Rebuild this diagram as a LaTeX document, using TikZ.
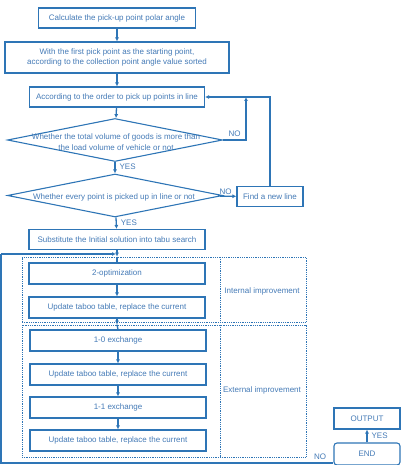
\documentclass[tikz,border=0pt]{standalone}
\usepackage{fontspec}
\setmainfont{Liberation Sans}
\usetikzlibrary{shapes,arrows.meta}
\definecolor{flowblue}{RGB}{46,117,182}
\definecolor{flowtext}{RGB}{68,122,182}

\begin{document}
\begin{tikzpicture}[x=1pt,y=-1pt,
    box/.style={draw=flowblue,line width=1.1pt,text=flowtext,font=\fontsize{8}{10}\selectfont,align=center,minimum height=20pt,inner sep=1pt},
    decision/.style={diamond,draw=flowblue,line width=1.1pt,minimum width=215pt,minimum height=43pt,inner sep=0pt},
    txt/.style={text=flowtext,font=\fontsize{8}{11}\selectfont,align=center,inner sep=0pt},
    arr/.style={draw=flowblue,line width=1.3pt,-{Latex[length=4pt,width=4pt]}},
    back/.style={draw=flowblue,line width=1.8pt},
    area/.style={draw=flowblue,densely dotted,line width=0.8pt}]
        \useasboundingbox (0,0) rectangle (410,465);
        % initial solution
        \node[box,minimum width=157pt] (calc) at (117,18) {Calculate the pick-up point polar angle};
        \node[box,minimum width=224pt,minimum height=31pt] (sort) at (117,57.5) {With the first pick point as the starting point,\\according to the collection point angle value sorted};
        \node[box,minimum width=175pt] (order) at (117,97) {According to the order to pick up points in line};
        \node[decision] (load) at (115,140) {};
        \node[txt] (loadtxt) at (116,142.5) {Whether the total volume of goods is more than\\the load volume of vehicle or not};
        \node[decision] (every) at (115,195.5) {};
        \node[txt] (everytxt) at (114,197) {Whether every point is picked up in line or not};
        \node[box,minimum width=66pt] (newline) at (270,196.5) {Find a new line};
        \node[box,minimum width=176pt] (subst) at (117,239.5) {Substitute the Initial solution into tabu search};
        % tabu search
        \node[area,minimum width=284pt,minimum height=65pt] (intern) at (164,289.5) {};
        \node[area,minimum width=284pt,minimum height=132pt] (extern) at (164,391) {};
        \draw[area] (220,257) -- (220,322);
        \draw[area] (220,325) -- (220,457);
        \node[txt] (interntxt) at (262,291) {Internal improvement};
        \node[txt] (externtxt) at (262,390) {External improvement};
        \node[box,minimum width=176pt,minimum height=21pt] (opt) at (117,273.5) {2-optimization};
        \node[box,minimum width=176pt,minimum height=21pt] (upda) at (117,307.5) {Update taboo table, replace the current};
        \node[box,minimum width=176pt,minimum height=21pt] (exa) at (118,340.5) {1-0 exchange};
        \node[box,minimum width=176pt,minimum height=21pt] (updb) at (118,374.5) {Update taboo table, replace the current};
        \node[box,minimum width=176pt,minimum height=21pt] (exb) at (118,407.5) {1-1 exchange};
        \node[box,minimum width=176pt,minimum height=21pt] (updc) at (118,440.5) {Update taboo table, replace the current};
        \node[box,minimum width=66pt,minimum height=21pt] (output) at (367,418.5) {OUTPUT};
        \node[box,minimum width=66pt,minimum height=22pt,rounded corners=3pt] (finish) at (367,454) {END};
        % main flow
        \draw[arr] (calc) -- (sort);
        \draw[arr] (sort) -- (order);
        \draw[arr] (order) -- (load);
        \draw[arr] (load) -- (every) node[txt,pos=0.45,right=4pt] (yesa) {YES};
        \draw[arr] (every) -- (subst) node[txt,pos=0.45,right=4pt] (yesb) {YES};
        \draw[arr] (every) -- (newline) node[txt,pos=0.35,above=1pt] (nob) {NO};
        \coordinate (backa) at (246,97);
        \draw[arr] (load.east) -| (backa) node[txt,pos=0.25,above=3pt] (noa) {NO};
        \draw[back,-{Latex[length=4pt,width=4pt]}] (newline.north) |- (order.east);
        \draw[arr] (subst.south) -- (subst.south |- intern.north);
        \draw[draw=flowblue,line width=1.3pt] (subst.south |- intern.north) -- (opt.north);
        \draw[arr] (opt.south) -- (upda.north);
        \draw[arr] (upda.south) -- (upda.south |- extern.north);
        \draw[draw=flowblue,line width=1.3pt] (upda.south |- extern.north) -- (exa.north);
        \draw[arr] (exa.south) -- (updb.north);
        \draw[arr] (updb.south) -- (exb.north);
        \draw[arr] (exb.south) -- (updc.north);
        \draw[arr] (finish) -- (output) node[txt,midway,right=4pt] (yesc) {YES};
        % back to tabu search
        \coordinate (loopa) at (1,463);
        \coordinate (loopb) at (1,254);
        \coordinate (merge) at (116,254);
        \draw[back] (finish.west |- loopa) -- (loopa) -- (loopb);
        \draw[arr] (loopb) -- (merge);
        \node[txt] (noc) at (320,457) {NO};
\end{tikzpicture}
\end{document}
